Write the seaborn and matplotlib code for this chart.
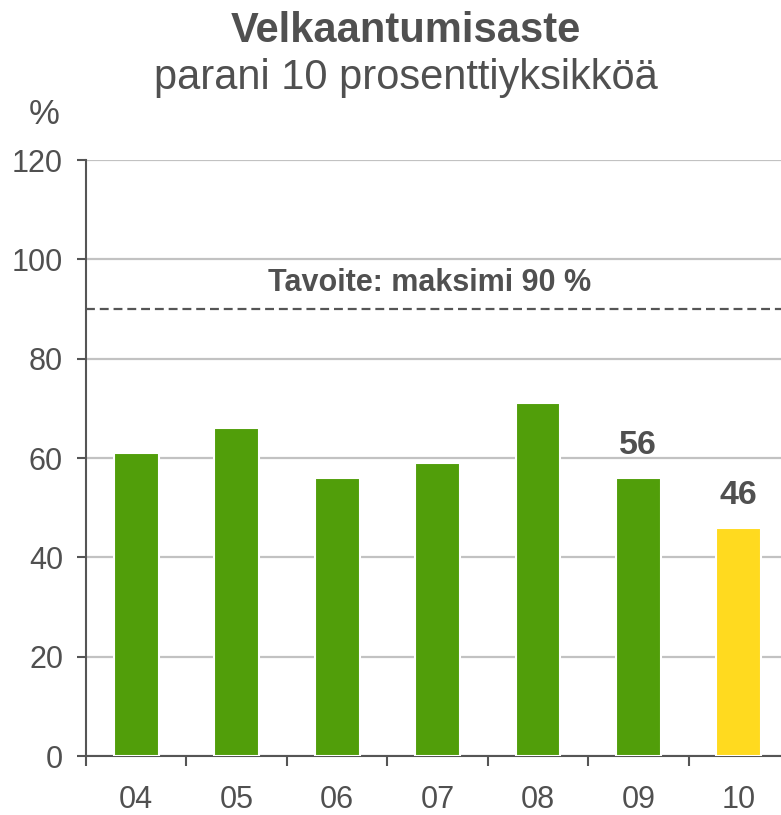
import numpy as np
import pandas as pd
import matplotlib
matplotlib.use('Agg')
import matplotlib.pyplot as plt
import seaborn as sns

# data
years = ['04', '05', '06', '07', '08', '09', '10']
values = [61, 66, 56, 59, 71, 56, 46]
bar_colors = ['#519E0A', '#519E0A', '#519E0A', '#519E0A', '#519E0A', '#519E0A', '#FFDA1F']
labelled = {'09': 56, '10': 46}
target = 90
target_text = 'Tavoite: maksimi 90 %'

sns.set_theme(style='white')
plt.rcParams['font.family'] = ['Liberation Sans', 'DejaVu Sans']
txt = '#505050'

df = pd.DataFrame({'year': years, 'value': values})

fig = plt.figure(figsize=(7.81, 8.15), dpi=100)
ax = fig.add_axes([86 / 781, 59 / 815, 1 - 86 / 781, (756 - 160) / 815])

sns.barplot(data=df, x='year', y='value', hue='year', palette=bar_colors,
            width=0.447, legend=False, saturation=1, edgecolor='white', linewidth=1.5,
            ax=ax, zorder=3)

ax.set_ylim(0, 120)
ax.set_yticks(np.arange(0, 121, 20))
ax.set_xlim(-0.48, 6.42)
ax.yaxis.grid(True, color='#C2C2C2', linewidth=1.6, zorder=0)
ax.set_axisbelow(True)

# tavoiteviiva
ax.axhline(target, color='#555555', linestyle=(0, (4, 2.2)), linewidth=1.6, zorder=4)
ax.text(0.495, 95.2, target_text, transform=ax.get_yaxis_transform(), ha='center', va='center',
        fontsize=22, fontweight='bold', color=txt)

# arvot kahdelle viimeiselle
for i, y in enumerate(years):
    if y in labelled:
        ax.annotate(str(labelled[y]), (i, labelled[y]), xytext=(0, 12), textcoords='offset points',
                    ha='center', va='bottom', fontsize=24.5, fontweight='bold', color=txt)

for s in ['top', 'right']:
    ax.spines[s].set_visible(False)
for s in ['left', 'bottom']:
    ax.spines[s].set_color('#555555')
    ax.spines[s].set_linewidth(1.5)

ax.set_xlabel('')
ax.set_ylabel('')
ax.tick_params(axis='y', which='major', length=6.5, width=1.5, color='#555555',
               labelsize=22, labelcolor=txt, pad=10, left=True)
ax.tick_params(axis='x', which='major', length=0, labelsize=22, labelcolor=txt, pad=21)
ax.set_xticks(np.arange(-0.5, 6, 1), minor=True)
ax.tick_params(axis='x', which='minor', length=7, width=1.5, color='#555555', bottom=True)

fig.text(406 / 781, 1 - 31 / 815, 'Velkaantumisaste', ha='center', va='center',
         fontsize=30, fontweight='bold', color=txt)
fig.text(406 / 781, 1 - 78 / 815, 'parani 10 prosenttiyksikköä', ha='center', va='center',
         fontsize=30, color=txt)
fig.text(44 / 781, 1 - 114 / 815, '%', ha='center', va='center', fontsize=25, color=txt)

fig.savefig('out.png', dpi=100)
